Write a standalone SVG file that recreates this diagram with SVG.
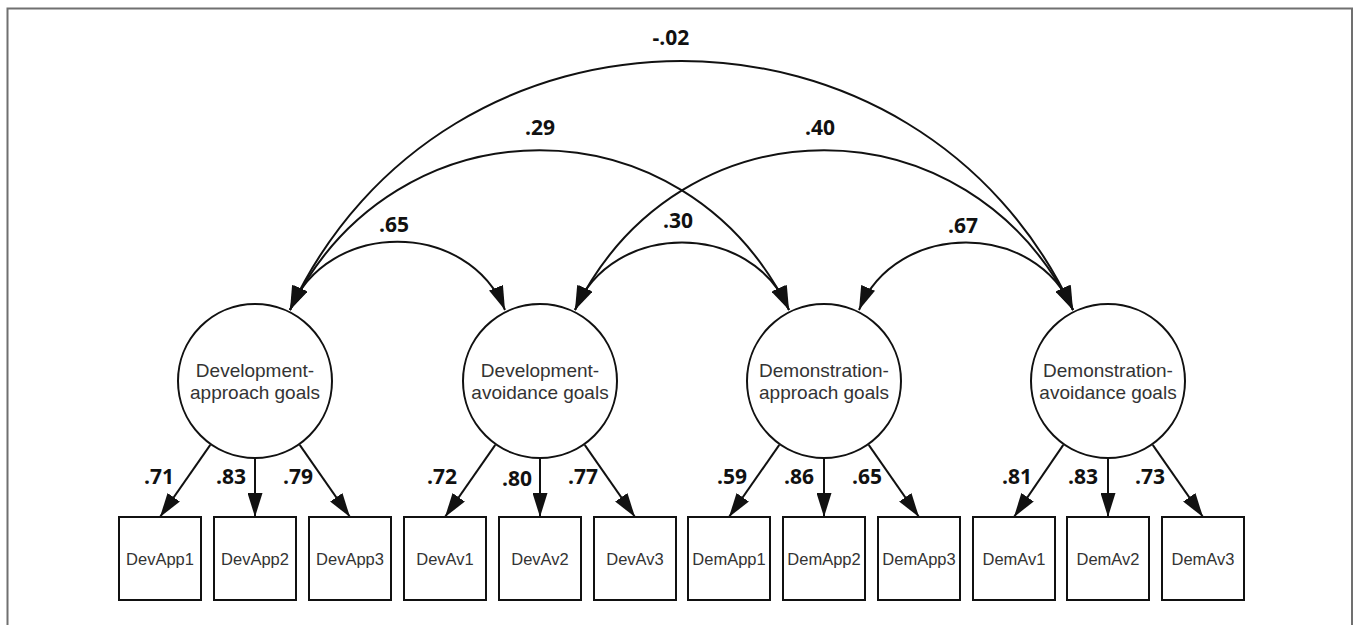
<svg xmlns="http://www.w3.org/2000/svg" width="1357" height="625" viewBox="0 0 1357 625">
<style>
.frame{fill:none;stroke:#707070;stroke-width:2}
.lat{fill:#fff;stroke:#111;stroke-width:2}
.obs{fill:#fff;stroke:#111;stroke-width:2}
.ltxt{font-family:"Liberation Sans",Arial,sans-serif;font-size:19px;fill:#333;text-anchor:middle}
.btxt{font-family:"Liberation Sans",Arial,sans-serif;font-size:16.5px;fill:#333;text-anchor:middle}
.num{font-family:"Open Sans","DejaVu Sans",sans-serif;font-size:21px;font-weight:bold;fill:#111;text-anchor:middle}
.cov{fill:none;stroke:#111;stroke-width:2;marker-start:url(#arrS);marker-end:url(#arrE)}
.load{fill:none;stroke:#111;stroke-width:2;marker-end:url(#arrE)}
</style>
<defs>
<marker id="arrE" markerUnits="userSpaceOnUse" markerWidth="24" markerHeight="15" refX="24" refY="7.5" orient="auto"><path d="M0,0 L24,7.5 L0,15 z" fill="#111"/></marker>
<marker id="arrS" markerUnits="userSpaceOnUse" markerWidth="24" markerHeight="15" refX="24" refY="7.5" orient="auto-start-reverse"><path d="M0,0 L24,7.5 L0,15 z" fill="#111"/></marker>
</defs>
<rect width="1357" height="625" fill="#fff"/>
<path class="frame" d="M7.5,625 V8.5 H1352 V625"/>

<g id="connectors">
<path class="cov" d="M290,310 C445,-22 918,-22 1073,310"/>
<path class="cov" d="M290,310 C395,97 684,97 789,310"/>
<path class="cov" d="M575,310 C680,97 968,97 1073,310"/>
<path class="cov" d="M290,310 C327,219 468,219 505,310"/>
<path class="cov" d="M575,310 C612,220 752,220 789,310"/>
<path class="cov" d="M859,310 C896,220 1036,220 1073,310"/>
<path class="load" d="M210.3,444.9 L160,517"/>
<path class="load" d="M255,459 L255,517"/>
<path class="load" d="M299.7,444.9 L350,517"/>
<path class="load" d="M495.3,444.9 L445,517"/>
<path class="load" d="M540,459 L540,517"/>
<path class="load" d="M584.7,444.9 L635,517"/>
<path class="load" d="M779.3,444.9 L729,517"/>
<path class="load" d="M824,459 L824,517"/>
<path class="load" d="M868.7,444.9 L919,517"/>
<path class="load" d="M1063.3,444.9 L1014,517"/>
<path class="load" d="M1108,459 L1108,517"/>
<path class="load" d="M1152.7,444.9 L1203,517"/>
<text class="num" x="671" y="45">-.02</text>
<text class="num" x="540" y="135">.29</text>
<text class="num" x="820" y="135">.40</text>
<text class="num" x="394" y="232">.65</text>
<text class="num" x="678" y="228">.30</text>
<text class="num" x="963" y="233">.67</text>
<text class="num" x="159" y="484">.71</text>
<text class="num" x="231" y="484">.83</text>
<text class="num" x="298" y="484">.79</text>
<text class="num" x="442" y="484">.72</text>
<text class="num" x="517" y="486">.80</text>
<text class="num" x="583" y="484">.77</text>
<text class="num" x="732" y="484">.59</text>
<text class="num" x="799" y="484">.86</text>
<text class="num" x="867" y="484">.65</text>
<text class="num" x="1017" y="484">.81</text>
<text class="num" x="1083" y="484">.83</text>
<text class="num" x="1150" y="484">.73</text>
</g>

<g id="devapp"><circle class="lat" cx="255" cy="381" r="77"/><text class="ltxt" x="255" y="377">Development-</text><text class="ltxt" x="255" y="399">approach goals</text></g>
<g id="devav"><circle class="lat" cx="540" cy="381" r="77"/><text class="ltxt" x="540" y="377">Development-</text><text class="ltxt" x="540" y="399">avoidance goals</text></g>
<g id="demapp"><circle class="lat" cx="824" cy="381" r="77"/><text class="ltxt" x="824" y="377">Demonstration-</text><text class="ltxt" x="824" y="399">approach goals</text></g>
<g id="demav"><circle class="lat" cx="1108" cy="381" r="77"/><text class="ltxt" x="1108" y="377">Demonstration-</text><text class="ltxt" x="1108" y="399">avoidance goals</text></g>

<g id="DevApp1"><rect class="obs" x="119" y="517" width="82" height="83"/><text class="btxt" x="160" y="565">DevApp1</text></g>
<g id="DevApp2"><rect class="obs" x="214" y="517" width="82" height="83"/><text class="btxt" x="255" y="565">DevApp2</text></g>
<g id="DevApp3"><rect class="obs" x="309" y="517" width="82" height="83"/><text class="btxt" x="350" y="565">DevApp3</text></g>
<g id="DevAv1"><rect class="obs" x="404" y="517" width="82" height="83"/><text class="btxt" x="445" y="565">DevAv1</text></g>
<g id="DevAv2"><rect class="obs" x="499" y="517" width="82" height="83"/><text class="btxt" x="540" y="565">DevAv2</text></g>
<g id="DevAv3"><rect class="obs" x="594" y="517" width="82" height="83"/><text class="btxt" x="635" y="565">DevAv3</text></g>
<g id="DemApp1"><rect class="obs" x="688" y="517" width="82" height="83"/><text class="btxt" x="729" y="565">DemApp1</text></g>
<g id="DemApp2"><rect class="obs" x="783" y="517" width="82" height="83"/><text class="btxt" x="824" y="565">DemApp2</text></g>
<g id="DemApp3"><rect class="obs" x="878" y="517" width="82" height="83"/><text class="btxt" x="919" y="565">DemApp3</text></g>
<g id="DemAv1"><rect class="obs" x="973" y="517" width="82" height="83"/><text class="btxt" x="1014" y="565">DemAv1</text></g>
<g id="DemAv2"><rect class="obs" x="1067" y="517" width="82" height="83"/><text class="btxt" x="1108" y="565">DemAv2</text></g>
<g id="DemAv3"><rect class="obs" x="1162" y="517" width="82" height="83"/><text class="btxt" x="1203" y="565">DemAv3</text></g>
</svg>
